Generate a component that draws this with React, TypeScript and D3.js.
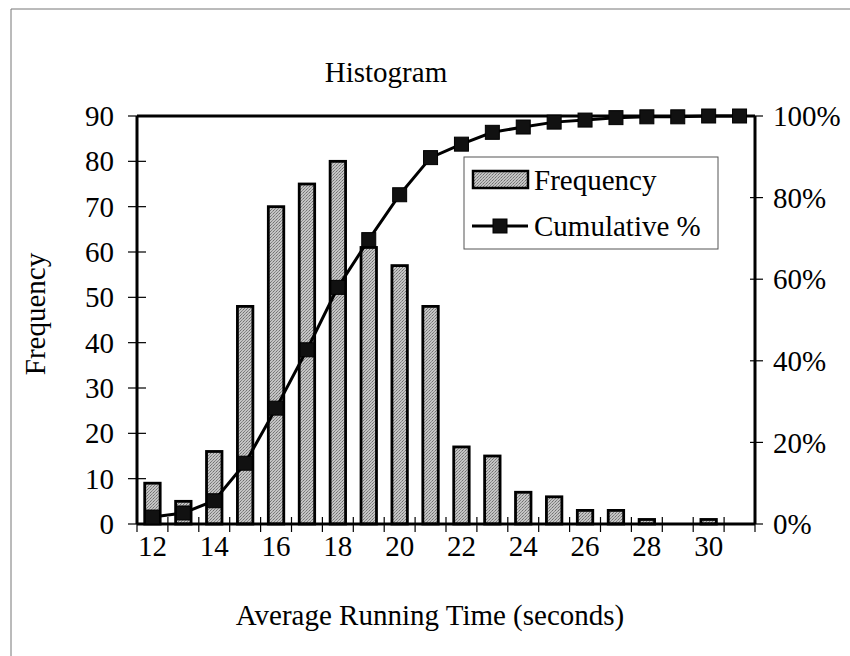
import React from "react";
import * as d3 from "d3";

const categories: number[] = [12, 13, 14, 15, 16, 17, 18, 19, 20, 21, 22, 23, 24, 25, 26, 27, 28, 29, 30, 31];
const frequency: number[] = [9, 5, 16, 48, 70, 75, 80, 61, 57, 48, 17, 15, 7, 6, 3, 3, 1, 0, 1, 0];
const cumulative: number[] = [1.7, 2.7, 5.7, 14.9, 28.4, 42.7, 58.0, 69.7, 80.7, 89.8, 93.1, 96.0, 97.3, 98.5, 99.0, 99.6, 99.8, 99.8, 100, 100];
const leftTicks: number[] = [0, 10, 20, 30, 40, 50, 60, 70, 80, 90];
const rightTicks: number[] = [0, 20, 40, 60, 80, 100];
const xLabels: number[] = [12, 14, 16, 18, 20, 22, 24, 26, 28, 30];

const W = 850;
const H = 656;
const L = 137;
const R = 755;
const T = 116;
const B = 524;
const FONT = "'Liberation Serif', 'Times New Roman', serif";
const FS = 29;

export default function App() {
  const x = d3
    .scaleBand<number>()
    .domain(categories)
    .range([L, R])
    .paddingInner(0.5)
    .paddingOuter(0.25);
  const y = d3.scaleLinear().domain([0, 90]).range([B, T]);
  const y2 = d3.scaleLinear().domain([0, 100]).range([B, T]);
  const step = x.step();
  const cx = (c: number) => (x(c) as number) + x.bandwidth() / 2;
  const line = d3
    .line<number>()
    .x((_, i) => cx(categories[i]))
    .y((d) => y2(d));
  const boundaries = d3.range(categories.length + 1).map((i) => L + i * step);
  const ms = 14;

  return (
    <svg
      width={W}
      height={H}
      style={{ position: "absolute", left: 0, top: 0, background: "#fff" }}
      fontFamily={FONT}
    >
      <defs>
        <pattern id="dots" width="3" height="3" patternUnits="userSpaceOnUse">
          <rect width="3" height="3" fill="#c4c4c4" />
          <rect x="0" y="0" width="1" height="1" fill="#6f6f6f" />
          <rect x="2" y="1" width="1" height="1" fill="#8f8f8f" />
          <rect x="1" y="2" width="1" height="1" fill="#808080" />
        </pattern>
      </defs>
      <rect width={W} height={H} fill="#fff" />
      {/* outer chart border */}
      <line x1={11} y1={9} x2={W} y2={9} stroke="#777" strokeWidth={1} />
      <line x1={11} y1={9} x2={11} y2={H} stroke="#777" strokeWidth={1} />

      <text x={386} y={82} fontSize={FS} textAnchor="middle">Histogram</text>

      {/* bars */}
      {categories.map((c, i) =>
        frequency[i] > 0 ? (
          <rect
            key={c}
            x={x(c) as number}
            y={y(frequency[i])}
            width={x.bandwidth()}
            height={B - y(frequency[i])}
            fill="url(#dots)"
            stroke="#000"
            strokeWidth={2.8}
          />
        ) : null
      )}

      {/* plot frame */}
      <line x1={L} y1={T} x2={R} y2={T} stroke="#000" strokeWidth={3} />
      <line x1={L} y1={T} x2={L} y2={B} stroke="#000" strokeWidth={3} />
      <line x1={R} y1={T} x2={R} y2={B} stroke="#000" strokeWidth={3} />
      <line x1={L} y1={B} x2={R} y2={B} stroke="#000" strokeWidth={3} />

      {/* left ticks */}
      {leftTicks.map((t) => (
        <g key={"l" + t}>
          <line x1={L - 9} x2={L + 9} y1={y(t)} y2={y(t)} stroke="#000" strokeWidth={1.2} />
          <text x={114} y={y(t)} dy="0.35em" fontSize={FS} textAnchor="end">{t}</text>
        </g>
      ))}
      {/* right ticks */}
      {rightTicks.map((t) => (
        <g key={"r" + t}>
          <line x1={R - 5} x2={R + 8} y1={y2(t)} y2={y2(t)} stroke="#000" strokeWidth={1.2} />
          <text x={773} y={y2(t)} dy="0.35em" fontSize={FS} textAnchor="start">{t}%</text>
        </g>
      ))}
      {/* bottom ticks */}
      {boundaries.map((b, i) => (
        <line key={"b" + i} x1={b} x2={b} y1={B - 7} y2={B + 8} stroke="#000" strokeWidth={1.2} />
      ))}
      {xLabels.map((c) => (
        <text key={"x" + c} x={cx(c)} y={556} fontSize={FS} textAnchor="middle">{c}</text>
      ))}

      {/* cumulative line */}
      <path d={line(cumulative) || ""} fill="none" stroke="#000" strokeWidth={3} />
      {cumulative.map((v, i) => (
        <rect
          key={"m" + i}
          x={cx(categories[i]) - ms / 2}
          y={y2(v) - ms / 2}
          width={ms}
          height={ms}
          fill="#111"
          stroke="#000"
          strokeWidth={1}
        />
      ))}

      {/* axis titles */}
      <text x={430} y={625} fontSize={FS} textAnchor="middle">Average Running Time (seconds)</text>
      <text
        transform={`translate(45,314) rotate(-90)`}
        fontSize={FS}
        textAnchor="middle"
      >
        Frequency
      </text>

      {/* legend */}
      <rect x={464} y={157} width={254} height={92} fill="#fff" stroke="#555" strokeWidth={1} />
      <rect x={473} y={171} width={55} height={17} fill="url(#dots)" stroke="#000" strokeWidth={2.5} />
      <text x={534} y={190} fontSize={FS}>Frequency</text>
      <line x1={472} x2={528} y1={226} y2={226} stroke="#000" strokeWidth={3} />
      <rect x={500 - ms / 2} y={226 - ms / 2} width={ms} height={ms} fill="#111" stroke="#000" strokeWidth={1} />
      <text x={534} y={236} fontSize={FS}>Cumulative %</text>
    </svg>
  );
}
